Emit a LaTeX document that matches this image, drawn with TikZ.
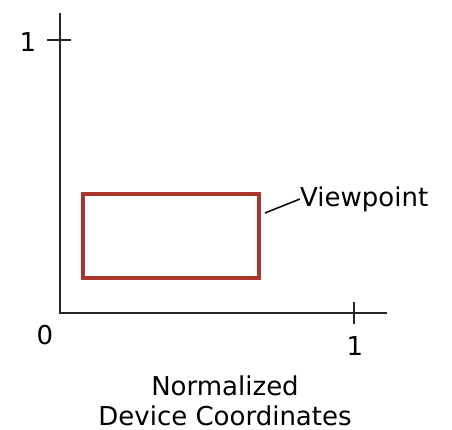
\documentclass[tikz,border=0pt]{standalone}
\usepackage{fontspec}
\setmainfont{DejaVu Sans}
\usetikzlibrary{positioning}
\definecolor{vpred}{RGB}{170,55,45}
\begin{document}
\begin{tikzpicture}[
    x=1pt,
    y=-1pt,
    font=\fontsize{26}{30}\selectfont,
    axis/.style={draw=black!85, line width=2.4pt},
    vpbox/.style={draw=vpred, line width=3.4pt},
    lbl/.style={inner sep=0pt}
]
\useasboundingbox (0,0) rectangle (452,430);

% axes
\coordinate (origin) at (60,313);
\coordinate (ytop) at (60,13);
\coordinate (xend) at (387,313);
\draw[axis] (ytop) -- (origin) -- (xend);
\draw[axis] (47,40) -- (71,40);
\draw[axis] (354,302) -- (354,324);
\node[lbl] (yone) at (28,42) {1};
\node[lbl] (zero) at (45,335) {0};
\node[lbl] (xone) at (355,346) {1};

% viewpoint rectangle
\draw[vpbox] (83,194) rectangle (259,278);
\coordinate (vpedge) at (265,213);
\node[lbl, anchor=west] (vplabel) at (300,199) {Viewpoint};
\draw[line width=1.5pt] (vpedge) -- (vplabel.west);

\node[lbl, anchor=base] (caption) at (225,395) {Normalized};
\node[lbl, anchor=base] (caption2) at (225,425) {Device Coordinates};
\end{tikzpicture}
\end{document}
